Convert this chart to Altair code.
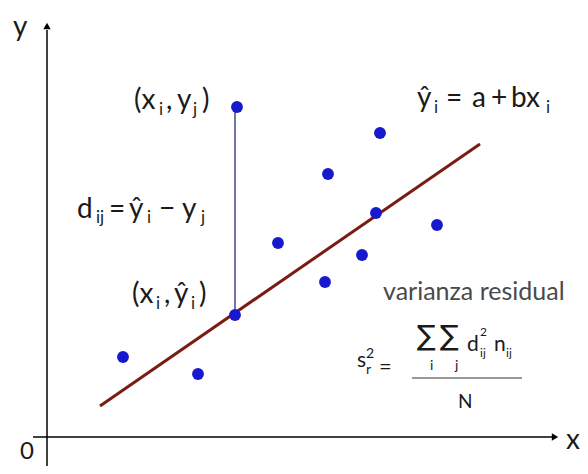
import altair as alt
import pandas as pd

# Diagram units: origin at the axes' crossing, y upward (1 unit ~ 1 px)
pts_x = [76, 151, 188, 190, 231, 278, 281, 315, 329, 333, 390]
pts_y = [80, 63, 122, 330, 194, 155, 263, 182, 224, 304, 212]

line_x = [53, 433]
line_y = [31, 293]

resid_x = [188, 188]
resid_y = [122, 330]

xaxis_x = [-14, 506]
yaxis_y = [-29, 407]
arrow_x = [0, 508]
arrow_y = [411, 0]
arrow_shape = ["triangle-up", "triangle-right"]

frac_x = [365, 475]
frac_y = [59, 59]

# text runs: left x, baseline y, text, font size
txt_x = [87, 112, 119, 130, 146, 155,            # (xi , yj)
         30, 49, 62, 82, 100, 112, 135, 154,     # dij = ŷi − yj
         85, 109, 117, 127, 144, 152,            # (xi , ŷi)
         370, 387, 399, 425, 444, 464, 499,      # ŷi = a + bxi
         336,                                    # varianza residual
         -34, -27, 519]                          # axis labels
txt_y = [328, 322, 328, 328, 322, 328,
         219, 214, 219, 219, 214, 219, 219, 214,
         134, 128, 134, 134, 128, 134,
         330, 324, 330, 330, 330, 330, 324,
         137,
         401, -22, -12]
txt_t = ["(x", "i", ",", "y", "j", ")",
         "d", "ij", "=", "ŷ", "i", "−", "y", "j",
         "(x", "i", ",", "ŷ", "i", ")",
         "ŷ", "i", "=", "a", "+", "bx", "i",
         "varianza residual",
         "y", "0", "x"]
txt_s = [28, 17, 28, 28, 17, 28,
         28, 17, 28, 28, 17, 28, 28, 17,
         28, 17, 28, 28, 17, 28,
         28, 17, 28, 28, 28, 28, 17,
         25,
         28, 24, 28]
txt_c = ["#1a1a1a"] * 27 + ["#4a4a4a"] + ["#1a1a1a"] * 3

# formula runs
fx = [420, 433, 433, 447, 459, 383, 408, 310, 319, 319, 332, 411]
fy = [86, 101, 80, 86, 80, 67, 67, 70, 79, 63, 63, 29]
ft = ["d", "2", "ij", "n", "ij", "i", "j", "s", "2", "r", "=", "N"]
fs = [21, 12, 12, 21, 12, 14, 14, 21, 14, 14, 22, 19]

# summation signs
sum_x = [370, 393]
sum_y = [92, 92]
sum_t = ["∑", "∑"]

FONT = "Lato"

X = alt.Scale(domain=[-39, 533], nice=False, zero=False)
Y = alt.Scale(domain=[-29, 429], nice=False, zero=False)

def xe(f="x"):
    return alt.X(f"{f}:Q", scale=X, axis=None)

def ye(f="y"):
    return alt.Y(f"{f}:Q", scale=Y, axis=None)

axes_df = pd.DataFrame({
    "x": [xaxis_x[0], 0], "x2": [xaxis_x[1], 0],
    "y": [0, yaxis_y[0]], "y2": [0, yaxis_y[1]],
})
axes = alt.Chart(axes_df).mark_rule(color="black", strokeWidth=1.5).encode(
    x=xe(), x2="x2:Q", y=ye(), y2="y2:Q")

arrows = alt.Chart(pd.DataFrame({"x": arrow_x, "y": arrow_y, "sh": arrow_shape})).mark_point(
    filled=True, color="black", size=55, opacity=1
).encode(x=xe(), y=ye(), shape=alt.Shape("sh:N", scale=None, legend=None))

resid = alt.Chart(pd.DataFrame({"x": resid_x, "y": resid_y})).mark_line(
    color="#2a2a78", strokeWidth=1.3).encode(x=xe(), y=ye())

reg = alt.Chart(pd.DataFrame({"x": line_x, "y": line_y})).mark_line(
    color="#7a1c14", strokeWidth=3).encode(x=xe(), y=ye())

points = alt.Chart(pd.DataFrame({"x": pts_x, "y": pts_y})).mark_circle(
    color="#1818cc", size=140, opacity=1).encode(x=xe(), y=ye())

frac = alt.Chart(pd.DataFrame({"x": frac_x, "y": frac_y})).mark_line(
    color="#333333", strokeWidth=1.2).encode(x=xe(), y=ye())

texts = alt.Chart(pd.DataFrame({"x": txt_x, "y": txt_y, "t": txt_t, "s": txt_s, "c": txt_c})).mark_text(
    align="left", baseline="alphabetic", font=FONT
).encode(x=xe(), y=ye(), text="t:N",
         size=alt.Size("s:Q", scale=None, legend=None),
         color=alt.Color("c:N", scale=None, legend=None))

formula = alt.Chart(pd.DataFrame({"x": fx, "y": fy, "t": ft, "s": fs})).mark_text(
    align="left", baseline="alphabetic", font=FONT, color="#1a1a1a"
).encode(x=xe(), y=ye(), text="t:N", size=alt.Size("s:Q", scale=None, legend=None))

sums = alt.Chart(pd.DataFrame({"x": sum_x, "y": sum_y, "t": sum_t})).mark_text(
    align="left", baseline="alphabetic", font="DejaVu Sans", fontSize=28,
    fontWeight="normal", color="#1a1a1a"
).encode(x=xe(), y=ye(), text="t:N")

chart = alt.layer(
    axes, arrows, resid, reg, points, frac, texts, formula, sums
).properties(
    width=572, height=458, padding=0,
    autosize=alt.AutoSizeParams(type="none")
).configure_view(stroke=None)

chart.save("out.html", embed_options={"renderer": "svg", "actions": False})
